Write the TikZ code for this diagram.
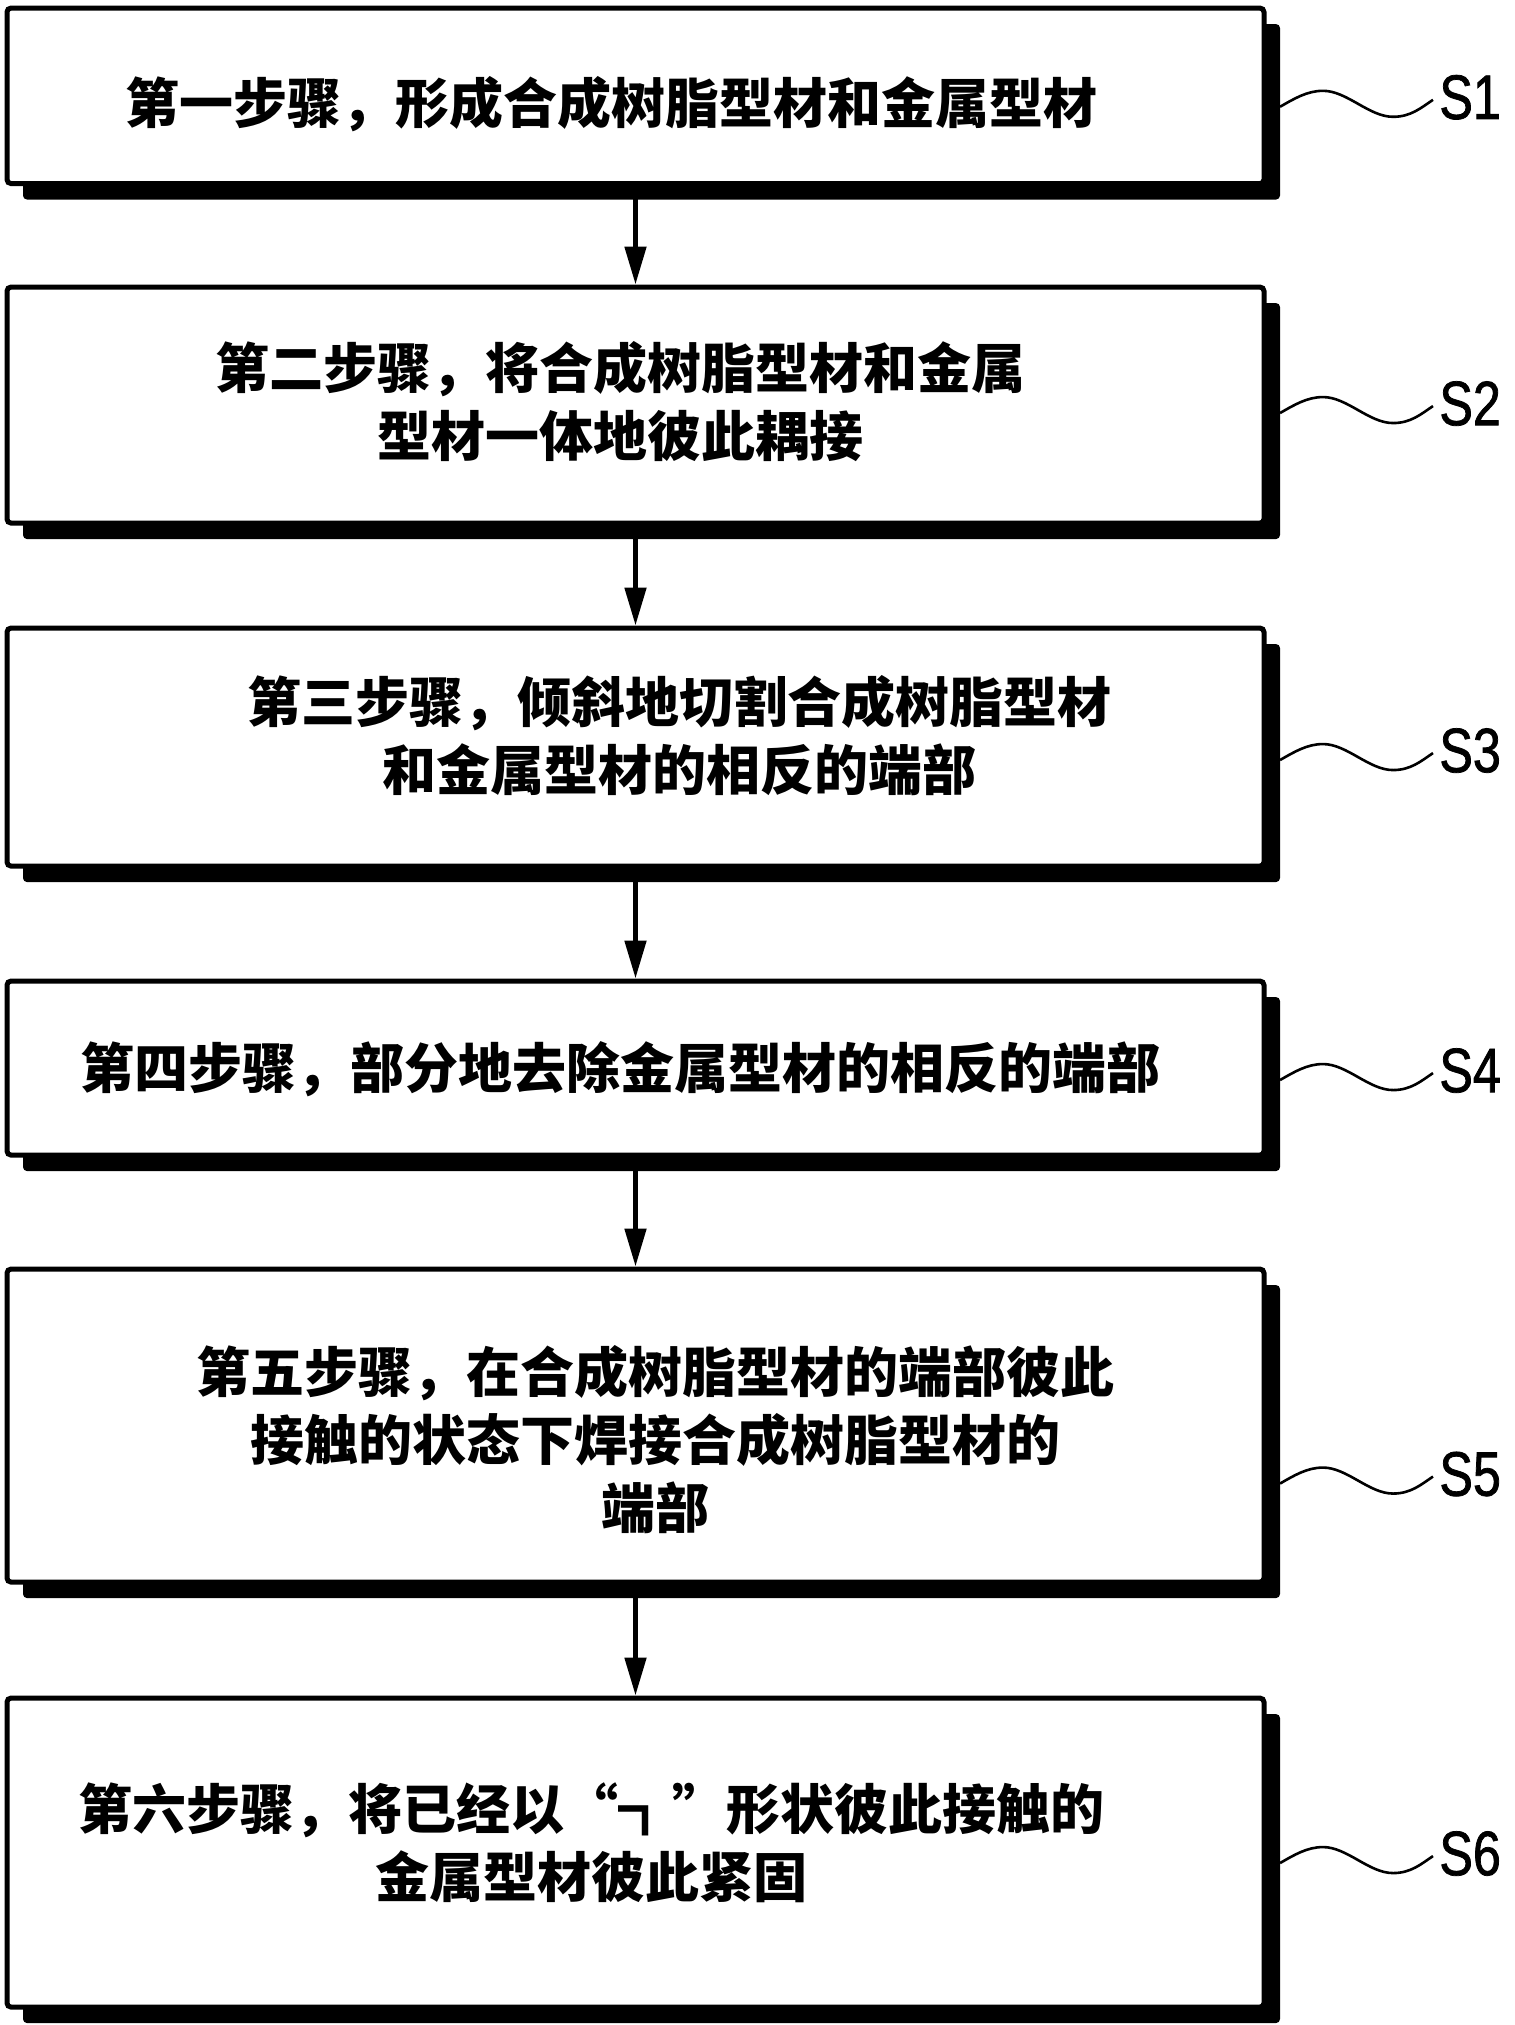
\documentclass[tikz,border=0pt]{standalone}
\usepackage{fontspec}
\newfontfamily\cjkfont{Noto Sans CJK SC}
\newfontfamily\steplabelfont[FakeStretch=0.8, FakeBold=1.2]{Liberation Sans}
\usetikzlibrary{arrows.meta, positioning, shadows}

\begin{document}
\begin{tikzpicture}[
    font=\cjkfont\bfseries,
    node distance=50pt,
    % Styles
    stepbox/.style={
        draw, fill=white, rounded corners=2pt, line width=2.5pt,
        minimum width=628.5pt, inner sep=0pt,
        drop shadow={shadow xshift=8pt, shadow yshift=-8pt, fill=black, opacity=1}
    },
    steptext/.style={
        align=center, inner sep=0pt,
        font=\cjkfont\bfseries\fontsize{27pt}{34pt}\selectfont
    },
    steplabel/.style={
        anchor=west, inner sep=0pt,
        font=\steplabelfont\fontsize{31.4pt}{36pt}\selectfont
    },
    arrow/.style={-{Triangle[length=19pt, width=10.5pt]}, line width=2.5pt},
    wave/.style={line width=1.3pt, to path={
        .. controls +(7pt,4pt) and +(-8pt,0pt) .. ++(21.5pt,8pt)
        .. controls +(12pt,0pt) and +(-12pt,0pt) .. ++(35pt,-13pt)
        .. controls +(9pt,0pt) and +(-6pt,-4pt) .. (\tikztotarget)}}
]
    \useasboundingbox (0,0) rectangle (757.5pt,-1012.5pt);

    % --- Step boxes ---
    \node[stepbox, minimum height=87.75pt] (s1) at (317.75pt,-47.9pt) {};
    \node[stepbox, minimum height=118pt, below=49.25pt of s1] (s2) {};
    \node[stepbox, minimum height=119pt, below=50pt of s2] (s3) {};
    \node[stepbox, minimum height=87pt, below=55pt of s3] (s4) {};
    \node[stepbox, minimum height=156.5pt, below=54.5pt of s4] (s5) {};
    \node[stepbox, minimum height=154.5pt, below=55.5pt of s5] (s6) {};

    % --- Step texts ---
    \node[steptext] (t1) at ([xshift=-12pt, yshift=-4pt]s1.center)
        {第一步骤，形成合成树脂型材和金属型材};
    \node[steptext] (t2) at ([xshift=-7.5pt, yshift=1.5pt]s2.center)
        {第二步骤，将合成树脂型材和金属\\型材一体地彼此耦接};
    \node[steptext] (t3) at ([xshift=22pt, yshift=5.5pt]s3.center)
        {第三步骤，倾斜地切割合成树脂型材\\和金属型材的相反的端部};
    \node[steptext] (t4) at ([xshift=-7.5pt, yshift=-0.5pt]s4.center)
        {第四步骤，部分地去除金属型材的相反的端部};
    \node[steptext] (t5) at ([xshift=10pt, yshift=-7pt]s5.center)
        {第五步骤，在合成树脂型材的端部彼此\\接触的状态下焊接合成树脂型材的\\端部};
    \node[steptext] (t6) at ([xshift=-22pt, yshift=5pt]s6.center)
        {第六步骤，将已经以“┓”形状彼此接触的\\金属型材彼此紧固};

    % --- Step labels ---
    \node[steplabel] (l1) at ([xshift=86.25pt, yshift=-0.75pt]s1.east) {S1};
    \node[steplabel] (l2) at ([xshift=86.25pt, yshift=0.75pt]s2.east) {S2};
    \node[steplabel] (l3) at ([xshift=86.25pt, yshift=-1.75pt]s3.east) {S3};
    \node[steplabel] (l4) at ([xshift=86.25pt, yshift=-1.25pt]s4.east) {S4};
    \node[steplabel] (l5) at ([xshift=86.25pt, yshift=-24.25pt]s5.east) {S5};
    \node[steplabel] (l6) at ([xshift=86.25pt, yshift=-0.5pt]s6.east) {S6};

    % --- Connections ---
    \draw[arrow] (s1) -- (s2);
    \draw[arrow] (s2) -- (s3);
    \draw[arrow] (s3) -- (s4);
    \draw[arrow] (s4) -- (s5);
    \draw[arrow] (s5) -- (s6);

    \draw[wave] ([xshift=6.75pt, yshift=-5.5pt]s1.east) to ([xshift=-3pt, yshift=-1.25pt]l1.west);
    \draw[wave] ([xshift=6.75pt, yshift=-4pt]s2.east) to ([xshift=-3pt, yshift=-1.25pt]l2.west);
    \draw[wave] ([xshift=6.75pt, yshift=-6.5pt]s3.east) to ([xshift=-3pt, yshift=-1.25pt]l3.west);
    \draw[wave] ([xshift=6.75pt, yshift=-6pt]s4.east) to ([xshift=-3pt, yshift=-1.25pt]l4.west);
    \draw[wave] ([xshift=6.75pt, yshift=-29pt]s5.east) to ([xshift=-3pt, yshift=-1.25pt]l5.west);
    \draw[wave] ([xshift=6.75pt, yshift=-5.25pt]s6.east) to ([xshift=-3pt, yshift=-1.25pt]l6.west);

\end{tikzpicture}
\end{document}
